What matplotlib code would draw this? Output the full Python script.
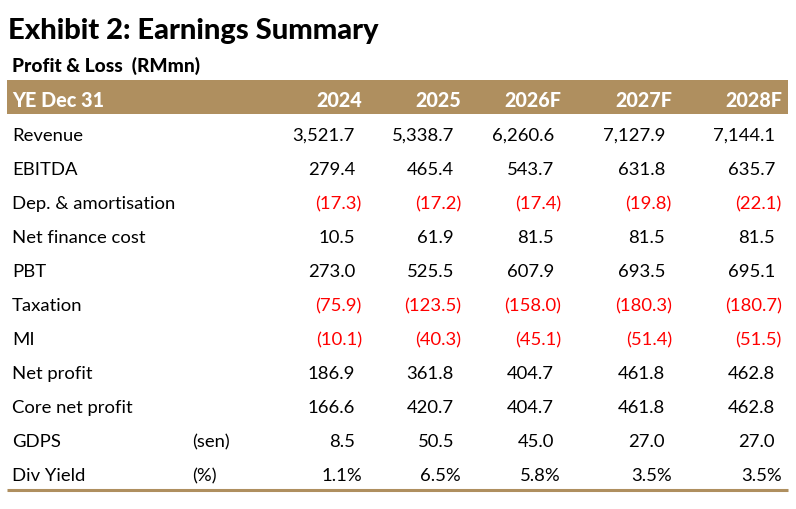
import matplotlib.pyplot as plt
from matplotlib.patches import Rectangle

plt.rcParams['font.family'] = ['Lato', 'DejaVu Sans']

title = "Exhibit 2: Earnings Summary"
subtitle = "Profit & Loss  (RMmn)"
header = "YE Dec 31"
years = ["2024", "2025", "2026F", "2027F", "2028F"]
labels = ["Revenue", "EBITDA", "Dep. & amortisation", "Net finance cost", "PBT",
          "Taxation", "MI", "Net profit", "Core net profit", "GDPS", "Div Yield"]
units = ["", "", "", "", "", "", "", "", "", "(sen)", "(%)"]

y2024 = [3521.7, 279.4, -17.3, 10.5, 273.0, -75.9, -10.1, 186.9, 166.6, 8.5, 1.1]
y2025 = [5338.7, 465.4, -17.2, 61.9, 525.5, -123.5, -40.3, 361.8, 420.7, 50.5, 6.5]
y2026 = [6260.6, 543.7, -17.4, 81.5, 607.9, -158.0, -45.1, 404.7, 404.7, 45.0, 5.8]
y2027 = [7127.9, 631.8, -19.8, 81.5, 693.5, -180.3, -51.4, 461.8, 461.8, 27.0, 3.5]
y2028 = [7144.1, 635.7, -22.1, 81.5, 695.1, -180.7, -51.5, 462.8, 462.8, 27.0, 3.5]
columns = [y2024, y2025, y2026, y2027, y2028]

gold = '#AF8F5F'
red = '#FF0000'

# layout in pixels
col_right = [362, 461, 561, 672, 782]
pos_shift = 7
row0 = 141
row_h = 34

fig = plt.figure(figsize=(7.96, 5.09), dpi=100)
ax = fig.add_axes([0, 0, 1, 1])
ax.set_xlim(0, 796)
ax.set_ylim(509, 0)
ax.axis('off')

ax.text(8, 39, title, fontsize=21, fontweight='black', va='baseline', ha='left')
ax.text(12, 72, subtitle, fontsize=13.8, fontweight='black', va='baseline', ha='left')

ax.add_patch(Rectangle((7, 80), 781, 34, facecolor=gold, edgecolor='none'))
ax.text(12, 107, header, fontsize=14.2, fontweight='black', color='white', va='baseline')
for x, yr in zip(col_right, years):
    ax.text(x, 107, yr, fontsize=14.2, fontweight='black', color='white', va='baseline', ha='right')


def fmt(v, pct):
    if pct:
        return f"{v:.1f}%", 'black', 0
    if v < 0:
        return f"({abs(v):,.1f})", red, 0
    return f"{v:,.1f}", 'black', pos_shift


for i, lab in enumerate(labels):
    yb = row0 + i * row_h
    ax.text(12, yb, lab, fontsize=13.3, va='baseline')
    if units[i]:
        ax.text(192, yb, units[i], fontsize=13.3, va='baseline')
    for x, col in zip(col_right, columns):
        s, c, sh = fmt(col[i], units[i] == "(%)")
        ax.text(x - sh, yb, s, fontsize=13.3, color=c, va='baseline', ha='right')

ax.plot([7, 788], [490, 490], color=gold, lw=2.2, solid_capstyle='butt')

fig.savefig('out.png', dpi=100)
